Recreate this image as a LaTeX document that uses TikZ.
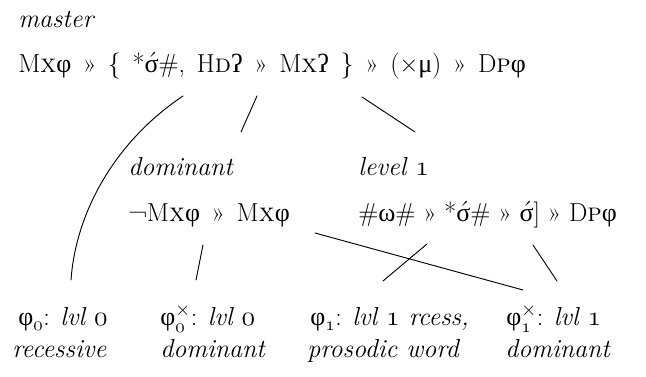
\documentclass[tikz,border=0pt]{standalone}
\usepackage{fontspec}
\usetikzlibrary{positioning}
\newfontfamily\grk{Liberation Serif}
\newcommand{\bigf}{\fontsize{19.5}{23}\selectfont}
\newcommand{\formf}{\bigf\spaceskip=0.45em\relax}
\newcommand{\ph}{{\grk φ}}
\newcommand{\gst}{{\grk ʔ}}
\newcommand{\sg}{$\acute{\hbox{\grk σ}}$}
\newcommand{\osn}[1]{$\mathnormal{#1}$}
\tikzset{
  tagI/.style={anchor=base west, inner sep=0pt, font=\bigf\itshape},
  formA/.style={anchor=base west, inner sep=0pt, font=\formf},
  leafA/.style={anchor=base west, inner sep=0pt, font=\bigf},
  lnk/.style={line width=0.7pt, line cap=round},
}

\begin{document}
\begin{tikzpicture}[x=0.75pt, y=-0.75pt]
    \useasboundingbox (0,0) rectangle (646,377);
    % master
    \node[tagI] (mlab) at (18,28) {master};
    \node[formA] (mst) at (18,73)
      {M\textsc{x}\ph{} » \{ *\sg\#, H\textsc{d}\gst{} » M\textsc{x}\gst{} \} » (×{\grk μ}) » D\textsc{p}\ph};
    % dominant / level 1
    \node[tagI] (dlab) at (128,176) {dominant};
    \node[formA] (dom) at (128,222) {¬M\textsc{x}\ph{} » M\textsc{x}\ph};
    \node[tagI] (vlab) at (358,176) {level \osn{1}};
    \node[formA, font=\bigf] (lv1) at (358,222) {\#{\grk ω}\# » *\sg\# » \sg] » D\textsc{p}\ph};
    % leaves
    \node[leafA] (p0) at (18,326) {\ph$_{\mathnormal{0}}$: \textit{lvl \osn{0}}};
    \node[tagI] (p0b) at (12,358) {recessive};
    \node[leafA] (p0x) at (160,326) {\ph$^{\times}_{\mathnormal{0}}$: \textit{lvl \osn{0}}};
    \node[tagI] (p0xb) at (160,358) {dominant};
    \node[leafA] (p1) at (310,326) {\ph$_{\mathnormal{1}}$: \textit{lvl \osn{1} rcess,}};
    \node[tagI] (p1b) at (307,358) {prosodic word};
    \node[leafA] (p1x) at (506,326) {\ph$^{\times}_{\mathnormal{1}}$: \textit{lvl \osn{1}}};
    \node[tagI] (p1xb) at (505,358) {dominant};
    % link ends
    \coordinate (m1) at (183,96);
    \coordinate (m2) at (257,96);
    \coordinate (m3) at (362,97);
    \coordinate (d0) at (241,132);
    \coordinate (v0) at (415,132);
    \coordinate (d1) at (203,245);
    \coordinate (d2) at (315,233);
    \coordinate (v1) at (427,244);
    \coordinate (v2) at (533,245);
    \coordinate (r0) at (71,280);
    \coordinate (r1) at (196,280);
    \coordinate (r2) at (383,281);
    \coordinate (r3) at (523,290);
    \coordinate (r4) at (557,281);
    \draw[lnk] (m1) .. controls (117,140) and (76,210) .. (r0);
    \draw[lnk] (m2) -- (d0);
    \draw[lnk] (m3) -- (v0);
    \draw[lnk] (d1) -- (r1);
    \draw[lnk] (d2) -- (r3);
    \draw[lnk] (v1) -- (r2);
    \draw[lnk] (v2) -- (r4);
\end{tikzpicture}
\end{document}
